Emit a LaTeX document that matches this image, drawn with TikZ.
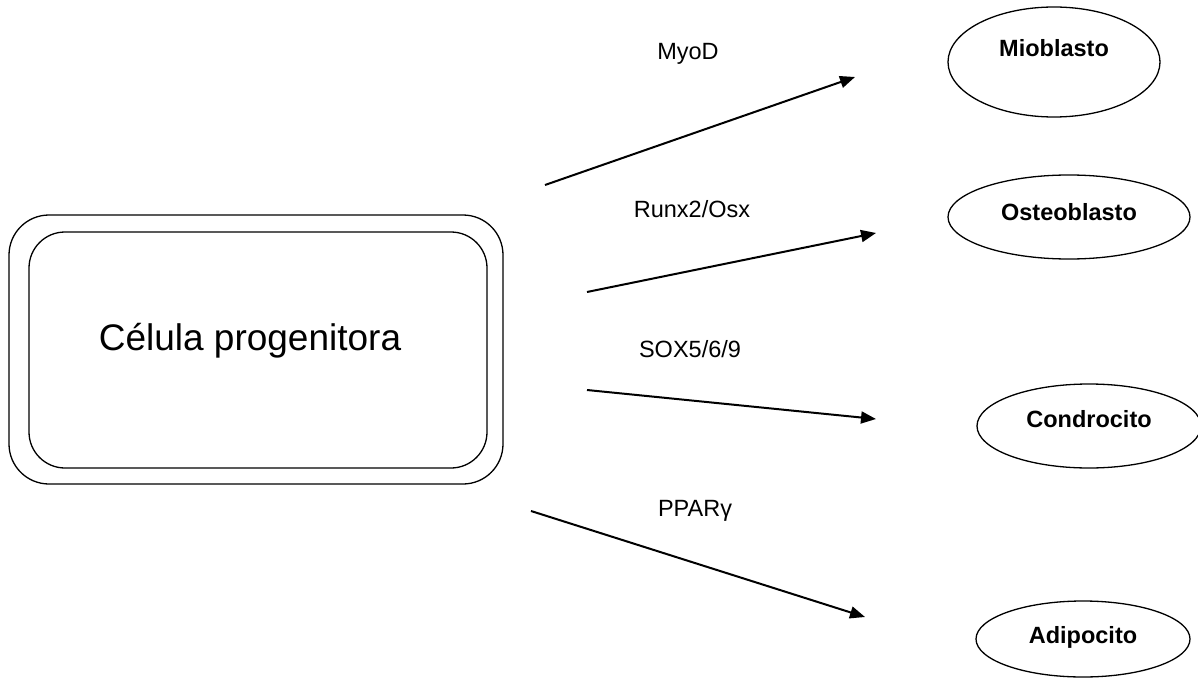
\documentclass[tikz,border=0pt]{standalone}
\usepackage{fontspec}
\setmainfont{Liberation Sans}
\usetikzlibrary{shapes.geometric,arrows.meta}

\tikzset{
  cell/.style={draw, ellipse, line width=1.3pt, inner sep=0pt},
  celltext/.style={font=\fontsize{23.5}{28}\selectfont\bfseries, inner sep=0pt},
  factor/.style={font=\fontsize{23.5}{28}\selectfont, inner sep=0pt, anchor=base},
  path/.style={line width=2pt, -{Triangle[length=15pt,width=12pt]}},
  frame/.style={draw, line width=1.3pt}
}

\begin{document}
\begin{tikzpicture}[x=1pt, y=-1pt]
  \useasboundingbox (0,0) rectangle (1198,679);

  % progenitor cell: double rounded frame
  \draw[frame, rounded corners=40pt] (9,215) rectangle (503,484);
  \draw[frame, rounded corners=36pt] (29,232) rectangle (487,468);
  \node[anchor=base, inner sep=0pt, font=\fontsize{37}{44}\selectfont] (prog) at (250,350) {Célula progenitora};

  % differentiated cell types
  \node[cell, minimum width=212pt, minimum height=110pt] (mio) at (1054,62) {};
  \node[celltext] at ([yshift=14pt]mio.center) {Mioblasto};
  \node[cell, minimum width=242pt, minimum height=84pt] (osteo) at (1069,217) {};
  \node[celltext] at ([yshift=5pt]osteo.center) {Osteoblasto};
  \node[cell, minimum width=224pt, minimum height=84pt] (condro) at (1089,426) {};
  \node[celltext] at ([yshift=7pt]condro.center) {Condrocito};
  \node[cell, minimum width=214pt, minimum height=76pt] (adipo) at (1083,639) {};
  \node[celltext] at ([yshift=2pt]adipo.center) {Adipocito};

  % arrow end points
  \coordinate (s1) at (545,185);  \coordinate (e1) at (855,77);
  \coordinate (s2) at (587,292);  \coordinate (e2) at (876,233);
  \coordinate (s3) at (587,390);  \coordinate (e3) at (876,419);
  \coordinate (s4) at (531,511);  \coordinate (e4) at (865,617);

  \draw[path] (s1) -- (e1);
  \draw[path] (s2) -- (e2);
  \draw[path] (s3) -- (e3);
  \draw[path] (s4) -- (e4);

  % transcription factor labels
  \node[factor] (myod) at (688,60) {MyoD};
  \node[factor] (runx) at (692,217) {Runx2/Osx};
  \node[factor] (sox) at (690,357) {SOX5/6/9};
  \node[factor] (ppar) at (695,516) {PPARγ};
\end{tikzpicture}
\end{document}
